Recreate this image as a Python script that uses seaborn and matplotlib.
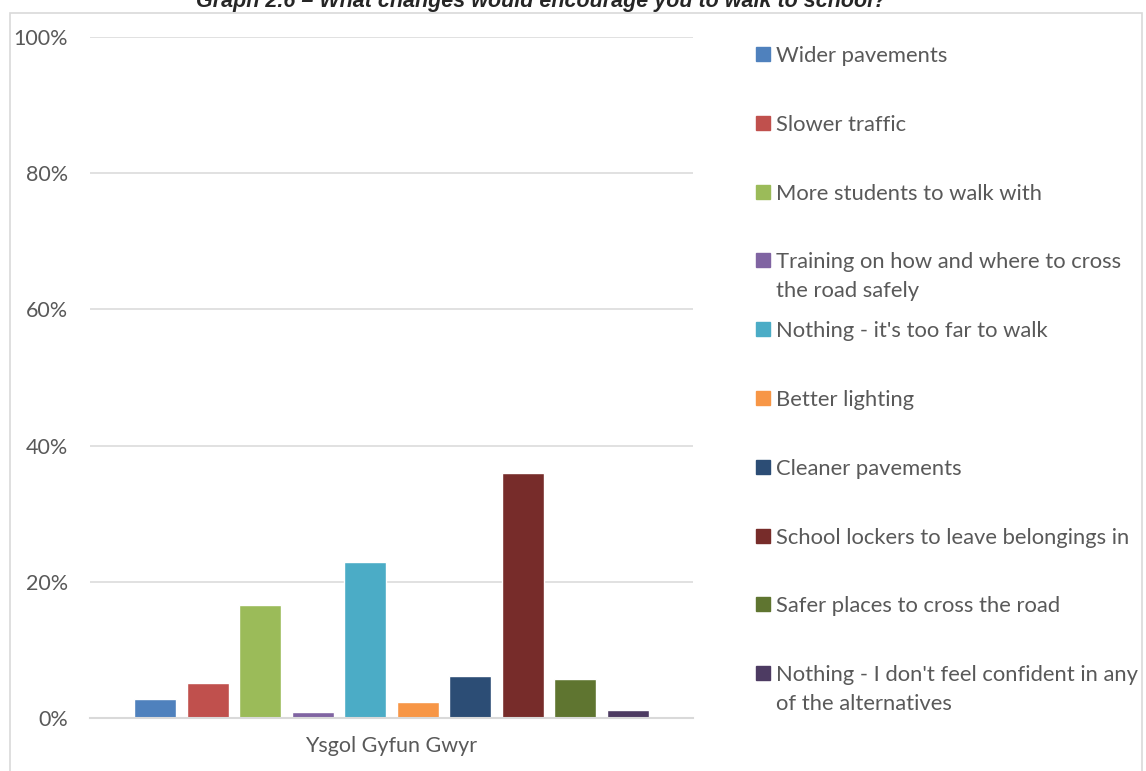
import matplotlib
matplotlib.use("Agg")
import matplotlib.pyplot as plt
import matplotlib.patches as mpatches
import pandas as pd
import seaborn as sns

school = ["Ysgol Gyfun Gwyr"]
answers = [
    "Wider pavements",
    "Slower traffic",
    "More students to walk with",
    "Training on how and where to cross\nthe road safely",
    "Nothing - it's too far to walk",
    "Better lighting",
    "Cleaner pavements",
    "School lockers to leave belongings in",
    "Safer places to cross the road",
    "Nothing - I don't feel confident in any\nof the alternatives",
]
shares = [0.028, 0.052, 0.166, 0.009, 0.229, 0.024, 0.061, 0.360, 0.057, 0.012]
colors = ["#4F81BD", "#C0504D", "#9BBB59", "#8064A2", "#4BACC6",
          "#F79646", "#2C4D75", "#772C2A", "#5F7530", "#4D3B62"]

df = pd.DataFrame({"school": school * len(answers), "answer": answers, "share": shares})

sns.set_style("white")
plt.rcParams["font.family"] = ["Lato", "DejaVu Sans"]

W, H = 1146, 771
fig = plt.figure(figsize=(W / 100, H / 100), dpi=100)
ax = fig.add_axes([90 / W, 1 - 718 / H, 603 / W, 681 / H])

sns.barplot(data=df, x="school", y="share", hue="answer", hue_order=answers,
            palette=colors, width=0.87, gap=0.2, saturation=1, ax=ax,
            legend=False)

ax.set_ylim(0, 1)
ax.set_xlim(-0.5, 0.5)
ax.set_yticks([0, 0.2, 0.4, 0.6, 0.8, 1.0])
ax.set_yticklabels(["0%", "20%", "40%", "60%", "80%", "100%"])
ax.yaxis.grid(True, color="#D9D9D9", linewidth=1.1)
ax.set_axisbelow(True)
ax.tick_params(axis="both", length=0, labelsize=15.5, colors="#595959")
ax.tick_params(axis="y", pad=16)
ax.tick_params(axis="x", pad=13)
ax.set_xlabel("")
ax.set_ylabel("")
for side in ["left", "right", "top"]:
    ax.spines[side].set_visible(False)
ax.spines["bottom"].set_color("#D9D9D9")
ax.spines["bottom"].set_linewidth(1.5)

# legend, one entry every ~69 px, square next to the first line
pitch = 68.8
line_px = 29
for i, (label, c) in enumerate(zip(answers, colors)):
    base = 62 + i * pitch
    fig.patches.append(mpatches.Rectangle((756 / W, 1 - (base - 1) / H), 14 / W, 14 / H,
                                          transform=fig.transFigure, color=c))
    # baseline alignment uses the last line, so push multi-line labels down
    last = base + label.count("\n") * line_px
    fig.text(776 / W, 1 - last / H, label, ha="left", va="baseline",
             fontsize=15.8, color="#595959", linespacing=1.58)

# chart frame and clipped title
fig.patches.append(mpatches.Rectangle((10 / W, -0.05), 1132 / W, 1.05 - 13 / H,
                                      transform=fig.transFigure, fill=False,
                                      edgecolor="#D9D9D9", linewidth=1.2))
fig.text(541 / W, 1 - 7 / H, "Graph 2.6 \u2013 What changes would encourage you to walk to school?",
         ha="center", va="baseline", fontsize=15.5, fontweight="bold", fontstyle="italic",
         family=["Liberation Sans", "DejaVu Sans"])

fig.savefig("out.png", dpi=100)
